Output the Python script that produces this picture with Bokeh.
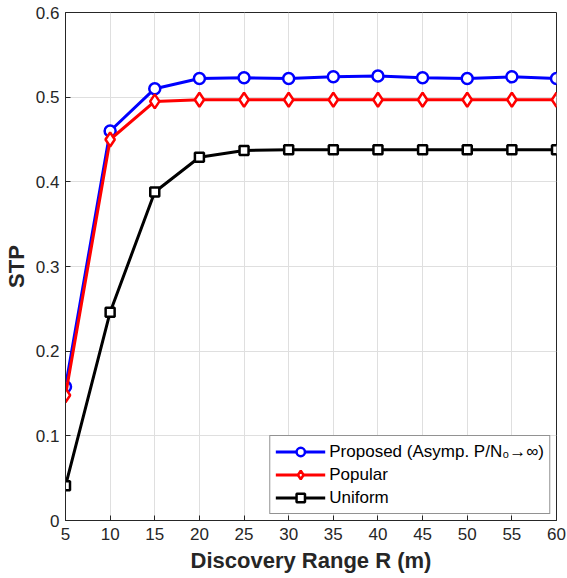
from bokeh.plotting import figure
from bokeh.models import Legend, LegendItem, FixedTicker, Range1d
from bokeh.embed import file_html
from bokeh.resources import INLINE

R = [5, 10, 15, 20, 25, 30, 35, 40, 45, 50, 55, 60]
proposed = [0.158, 0.460, 0.510, 0.522, 0.523, 0.522, 0.524, 0.525, 0.523, 0.522, 0.524, 0.522]
popular = [0.148, 0.450, 0.495, 0.497, 0.497, 0.497, 0.497, 0.497, 0.497, 0.497, 0.497, 0.497]
uniform = [0.041, 0.246, 0.388, 0.429, 0.437, 0.438, 0.438, 0.438, 0.438, 0.438, 0.438, 0.438]
xticks = R
yticks = [0, 0.1, 0.2, 0.3, 0.4, 0.5, 0.6]

FONT = "Liberation Sans"

p = figure(width=567, height=578, output_backend="svg", toolbar_location=None,
           x_range=Range1d(5, 60), y_range=Range1d(0, 0.6),
           min_border_left=65, min_border_right=11, min_border_top=12, min_border_bottom=58)
p.background_fill_color = "white"
p.border_fill_color = "white"
p.outline_line_color = "#262626"
p.outline_line_width = 1

for ax in [p.xaxis[0], p.yaxis[0]]:
    ax.major_tick_in = 5
    ax.major_tick_out = 0
    ax.minor_tick_line_color = None
    ax.axis_line_color = "#262626"
    ax.major_tick_line_color = "#262626"
    ax.major_label_text_font = FONT
    ax.major_label_text_font_size = "17px"
    ax.major_label_text_color = "#262626"
    ax.axis_label_text_font = FONT
    ax.axis_label_text_font_size = "22px"
    ax.axis_label_text_font_style = "bold"
    ax.axis_label_text_color = "#262626"

p.xaxis.ticker = FixedTicker(ticks=xticks)
p.yaxis.ticker = FixedTicker(ticks=yticks)
p.yaxis.major_label_overrides = {0: "0"}
p.xaxis.axis_label = "Discovery Range R (m)"
p.yaxis.axis_label = "STP"
p.xaxis.axis_label_standoff = 5
p.yaxis.axis_label_standoff = 4
p.xaxis.major_label_standoff = 7
p.yaxis.major_label_standoff = 6

p.xgrid.ticker = FixedTicker(ticks=xticks)
p.ygrid.ticker = FixedTicker(ticks=yticks)
p.grid.grid_line_color = "#dfdfdf"
p.grid.grid_line_width = 1

lw = 3
l1 = p.line(R, proposed, line_color="#0000ff", line_width=lw)
m1 = p.scatter(R, proposed, marker="circle", size=11, line_color="#0000ff", fill_color="white", line_width=2.5)
l2 = p.line(R, popular, line_color="#ff0000", line_width=lw)
m2 = p.scatter(R, popular, marker="diamond", size=14, line_color="#ff0000", fill_color="white", line_width=2.5)
l3 = p.line(R, uniform, line_color="black", line_width=lw)
m3 = p.scatter(R, uniform, marker="square", size=9, line_color="black", fill_color="white", line_width=2.5)

legend = Legend(items=[
    LegendItem(label="Proposed (Asymp. P/N₀→∞)", renderers=[l1, m1]),
    LegendItem(label="Popular", renderers=[l2, m2]),
    LegendItem(label="Uniform", renderers=[l3, m3]),
], location="bottom_right")
legend.label_text_font = FONT
legend.label_text_font_size = "17px"
legend.label_text_color = "black"
legend.border_line_color = "#262626"
legend.border_line_width = 1
legend.background_fill_alpha = 1
legend.glyph_width = 50
legend.glyph_height = 21
legend.label_height = 21
legend.spacing = 2
legend.padding = 5
legend.margin = 6
legend.label_standoff = 4
p.add_layout(legend)

open("out.html", "w").write(file_html(p, INLINE))
